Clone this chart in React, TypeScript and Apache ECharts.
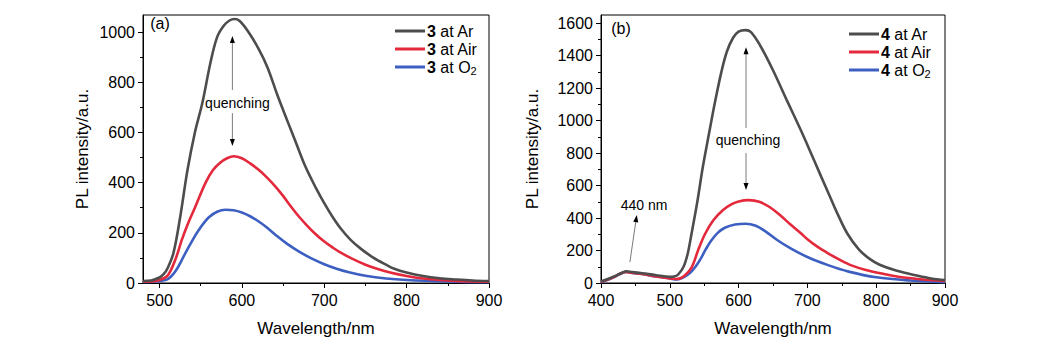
import React, { useEffect, useRef } from "react";
import * as echarts from "echarts";

type P = [number, number];

// Panel (a): compound 3
const ar3: P[] = [[480,8],[490,10],[500,22],[505,35],[510,60],[517,120],[525,260],[534,450],[543,600],[552,717],[562,880],[570,980],[578,1025],[585,1046],[591,1052],[597,1045],[607,1005],[620,935],[631,860],[643,750],[655,648],[665,565],[677,465],[690,378],[700,318],[710,264],[720,217],[732,172],[745,135],[760,100],[775,73],[785,57],[800,42],[820,28],[840,19],[860,14],[880,10],[900,8]];
const air3: P[] = [[480,5],[490,6],[500,12],[510,30],[520,100],[527,171],[535,240],[543,300],[556,400],[565,450],[574,480],[582,497],[590,505],[600,497],[610,477],[620,452],[630,422],[640,387],[650,347],[660,303],[670,262],[680,226],[690,193],[700,165],[710,142],[720,121],[735,95],[750,73],[765,56],[780,42],[800,28],[820,18],[840,12],[860,8],[880,6],[900,5]];
const o23: P[] = [[480,4],[490,5],[500,8],[510,15],[520,50],[530,110],[540,170],[550,222],[560,262],[570,284],[580,292],[590,290],[600,281],[610,266],[620,246],[630,222],[643,186],[655,156],[670,124],[685,97],[700,75],[715,57],[730,43],[750,29],[775,18],[800,12],[850,6],[900,3]];

// Panel (b): compound 4
const ar4: P[] = [[400,10],[410,25],[420,42],[430,62],[437,72],[445,68],[460,60],[480,48],[500,38],[506,40],[512,52],[520,100],[526,180],[531,290],[540,500],[548,714],[557,920],[566,1120],[575,1300],[583,1425],[592,1510],[600,1548],[610,1557],[618,1545],[631,1465],[650,1310],[670,1126],[690,945],[700,850],[720,655],[733,530],[745,415],[758,305],[775,205],[790,150],[805,112],[830,75],[860,45],[880,28],[900,18]];
const air4: P[] = [[400,8],[410,22],[420,40],[430,62],[437,68],[445,63],[460,55],[480,40],[500,28],[510,25],[520,40],[532,98],[541,200],[551,300],[563,385],[577,448],[590,485],[600,502],[615,510],[630,500],[645,468],[660,418],[675,362],[690,308],[700,270],[715,222],[730,183],[748,141],[765,107],[785,80],[806,60],[830,40],[860,25],[900,12]];
const o24: P[] = [[400,5],[410,20],[420,38],[430,60],[437,68],[445,62],[460,55],[480,40],[500,28],[510,22],[520,35],[530,65],[537,98],[545,150],[552,205],[560,260],[570,310],[580,340],[595,360],[610,365],[625,352],[640,315],[656,265],[675,215],[700,160],[730,110],[760,70],[800,35],[850,15],[900,5]];

const names = ["3 at Ar", "3 at Air", "3 at O2", "4 at Ar", "4 at Air", "4 at O2"];
const colors = ["#4d4d4d", "#e3293b", "#3d5fc1"];

const xMajorA = [500, 600, 700, 800, 900];
const xMinorA = [550, 650, 750, 850];
const yMajorA = [0, 200, 400, 600, 800, 1000];
const yMinorA = [100, 300, 500, 700, 900];
const xMajorB = [400, 500, 600, 700, 800, 900];
const xMinorB = [450, 550, 650, 750, 850];
const yMajorB = [0, 200, 400, 600, 800, 1000, 1200, 1400, 1600];
const yMinorB = [100, 300, 500, 700, 900, 1100, 1300, 1500];

// annotations in data coordinates: [grid, fromX, fromY, toX, toY]
const arrows: [number, number, number, number, number][] = [
  [0, 588.5, 769, 588.5, 984],
  [0, 588.5, 677, 588.5, 546],
  [1, 610.8, 954, 610.8, 1452],
  [1, 610.8, 800, 610.8, 572],
  [1, 442, 129, 452, 418],
];
const labels: [number, number, number, string, number][] = [
  [0, 500.7, 1036, "(a)", 16],
  [1, 429, 1569, "(b)", 16],
  [0, 594.6, 717, "quenching", 14],
  [1, 613.7, 880, "quenching", 14],
  [1, 462.5, 480, "440 nm", 14],
];

const FONT = "'Liberation Sans', Arial, sans-serif";
const plain = (v: number) => String(v);

function xAxes(gridIndex: number, min: number, max: number, major: number[], minor: number[]) {
  return [
    {
      type: "value", gridIndex, min, max, position: "bottom",
      name: "Wavelength/nm", nameLocation: "middle", nameGap: 37,
      nameTextStyle: { fontSize: 17, color: "#000", fontFamily: FONT },
      axisLine: { show: true, lineStyle: { color: "#000", width: 1 } },
      axisTick: { show: true, inside: false, length: 5, customValues: major, lineStyle: { color: "#000" } },
      axisLabel: { show: true, customValues: major, formatter: plain, fontSize: 16, color: "#000", fontFamily: FONT, margin: 9 },
      splitLine: { show: false },
    },
    {
      type: "value", gridIndex, min, max, position: "bottom",
      axisLine: { show: false },
      axisTick: { show: true, inside: false, length: 3, customValues: minor, lineStyle: { color: "#000" } },
      axisLabel: { show: false },
      splitLine: { show: false },
    },
  ];
}

function yAxes(gridIndex: number, max: number, major: number[], minor: number[], gap: number) {
  return [
    {
      type: "value", gridIndex, min: 0, max, position: "left",
      name: "PL intensity/a.u.", nameLocation: "middle", nameGap: gap,
      nameTextStyle: { fontSize: 17, color: "#000", fontFamily: FONT },
      axisLine: { show: true, lineStyle: { color: "#000", width: 1 } },
      axisTick: { show: true, inside: false, length: 5, customValues: major, lineStyle: { color: "#000" } },
      axisLabel: { show: true, customValues: major, formatter: plain, fontSize: 16, color: "#000", fontFamily: FONT, margin: 8 },
      splitLine: { show: false },
    },
    {
      type: "value", gridIndex, min: 0, max, position: "left", offset: 0,
      axisLine: { show: false },
      axisTick: { show: true, inside: false, length: 3, customValues: minor, lineStyle: { color: "#000" } },
      axisLabel: { show: false },
      splitLine: { show: false },
    },
  ];
}

function legendCfg(data: string[], left: number, top: number) {
  return {
    orient: "vertical", left, top, data, icon: "rect", itemWidth: 30, itemHeight: 3, itemGap: 0,
    selectedMode: false,
    formatter: (n: string) => {
      const [num, , gas] = n.split(" ");
      const g = gas === "O2" ? "O{s|2}" : gas;
      return `{b|${num}} at ${g}`;
    },
    textStyle: {
      fontSize: 16, color: "#000", fontFamily: FONT, lineHeight: 18, padding: [0, 0, 0, -3],
      rich: {
        b: { fontWeight: "bold", fontSize: 16, fontFamily: FONT, color: "#000", lineHeight: 18 },
        s: { fontSize: 11, fontFamily: FONT, color: "#000", padding: [7, 0, 0, 0] },
      },
    },
  };
}

export default function App() {
  const ref = useRef<HTMLDivElement>(null);
  useEffect(() => {
    if (!ref.current) return;
    const chart = echarts.init(ref.current, undefined, { renderer: "svg" });
    const sets = [ar3, air3, o23, ar4, air4, o24];
    const series = sets.map((d, i) => ({
      type: "line", name: names[i], data: d,
      xAxisIndex: i < 3 ? 0 : 2, yAxisIndex: i < 3 ? 0 : 2,
      showSymbol: false, smooth: 0.35,
      lineStyle: { width: 2.6, color: colors[i % 3] },
      itemStyle: { color: colors[i % 3] },
      z: 5 - (i % 3),
    }));
    chart.setOption({
      animation: false,
      backgroundColor: "#fff",
      grid: [
        { left: 143, right: 1053 - 489, top: 15, bottom: 351 - 283, show: true, borderColor: "#000", borderWidth: 1 },
        { left: 601, right: 1053 - 945, top: 15, bottom: 351 - 283, show: true, borderColor: "#000", borderWidth: 1 },
      ],
      xAxis: [...xAxes(0, 480, 900, xMajorA, xMinorA), ...xAxes(1, 400, 900, xMajorB, xMinorB)],
      yAxis: [...yAxes(0, 1068, yMajorA, yMinorA, 52), ...yAxes(1, 1650, yMajorB, yMinorB, 60)],
      legend: [legendCfg(names.slice(0, 3), 390, 17), legendCfg(names.slice(3), 844, 20)],
      series,
    });
    const px = (g: number, x: number, y: number) =>
      chart.convertToPixel({ gridIndex: g } as any, [x, y]) as number[];
    const graphic: any[] = [];
    arrows.forEach(([g, x1, y1, x2, y2]) => {
      const a = px(g, x1, y1);
      const b = px(g, x2, y2);
      const dx = b[0] - a[0], dy = b[1] - a[1];
      const len = Math.hypot(dx, dy);
      const ux = dx / len, uy = dy / len;
      const hl = 7, hw = 2.5;
      const bx = b[0] - ux * hl, by = b[1] - uy * hl;
      graphic.push({
        type: "line", silent: true,
        shape: { x1: a[0], y1: a[1], x2: bx, y2: by },
        style: { stroke: "#7a7a7a", lineWidth: 1 },
      });
      graphic.push({
        type: "polygon", silent: true,
        shape: { points: [[b[0], b[1]], [bx - uy * hw, by + ux * hw], [bx + uy * hw, by - ux * hw]] },
        style: { fill: "#000" },
      });
    });
    labels.forEach(([g, x, y, t, fs]) => {
      const p = px(g, x, y);
      graphic.push({
        type: "text", x: p[0], y: p[1], silent: true,
        style: { text: t, fontSize: fs, fontFamily: FONT, fill: "#000", align: "center", verticalAlign: "middle" },
      });
    });
    chart.setOption({ graphic });
    return () => chart.dispose();
  }, []);
  return (
    <div
      ref={ref}
      style={{ position: "absolute", left: 0, top: 0, width: 1053, height: 351 }}
    />
  );
}
